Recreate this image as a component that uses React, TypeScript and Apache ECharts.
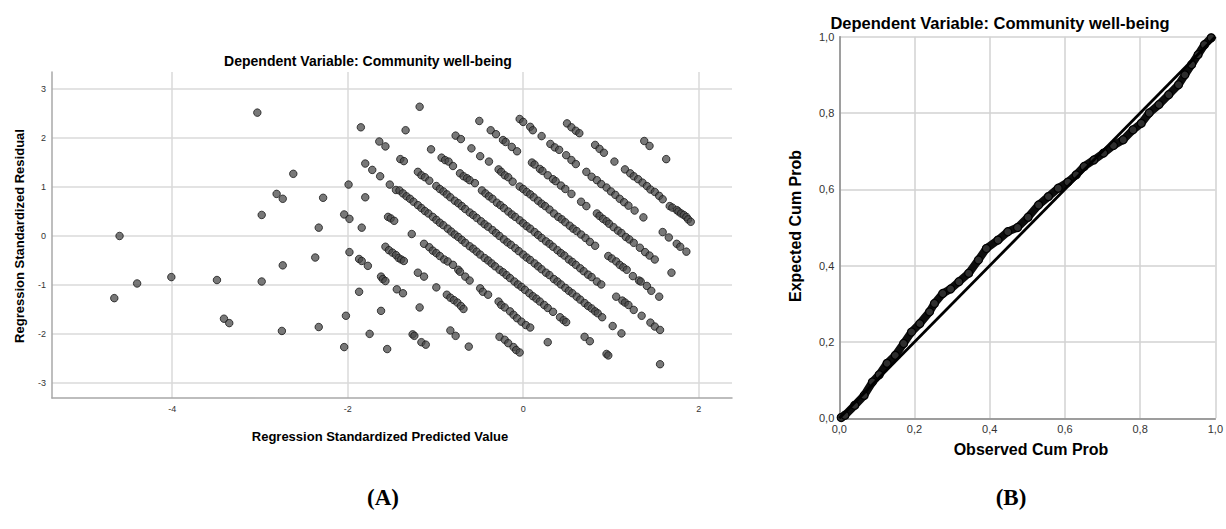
import React, { useEffect, useRef } from "react";
import * as echarts from "echarts";

// ---------- Panel A: standardized residual vs standardized predicted ----------
const predictedTicks = [-4, -2, 0, 2];
const residualTicks = [-3, -2, -1, 0, 1, 2, 3];

const farLeftPoints: number[][] = [
  [-4.66, -1.27], [-4.6, 0.0], [-4.4, -0.97], [-4.01, -0.84], [-3.49, -0.9], [-3.41, -1.69],
  [-3.35, -1.78], [-3.03, 2.52], [-2.98, 0.43], [-2.98, -0.93], [-2.81, 0.86], [-2.74, 0.76],
  [-2.74, -0.6], [-2.75, -1.94], [-2.62, 1.27], [-2.37, -0.44], [-2.33, 0.17], [-2.33, -1.86],
  [-2.28, 0.78], [-2.04, -2.27], [-2.04, 0.44], [-2.02, -1.63], [-1.99, 1.05], [-1.98, 0.35],
  [-1.98, -0.33], [-1.87, -1.14], [-1.87, -0.47], [-1.84, -0.51], [-1.85, 2.22], [-1.84, 0.17],
  [-1.8, 1.48], [-1.8, 0.79], [-1.77, -0.61], [-1.75, -2.0], [-1.72, 1.35], [-1.64, 1.93],
  [-1.63, 1.22], [-1.62, -0.83], [-1.6, -0.88], [-1.57, -0.92], [-1.62, -1.53], [-1.57, 1.83],
  [-1.55, -2.31], [-1.54, 0.39], [-1.51, 0.36], [-1.47, 0.31], [-1.52, 1.05], [-1.44, -1.09],
  [-1.45, 0.94],
];

const lowerLeftPoints: number[][] = [
  [-1.57, -0.22], [-1.53, -0.29], [-1.49, -0.34], [-1.45, -0.39], [-1.42, -0.45], [-1.39, -0.48],
  [-1.36, -0.51], [-1.2, -0.75], [-1.13, -0.83], [-0.99, -1.05], [-0.87, -1.2], [-0.83, -1.26],
  [-0.79, -1.31], [-0.75, -1.36], [-0.71, -1.43], [-0.68, -1.49], [-0.27, -2.06], [-0.21, -2.12],
  [-0.17, -2.19], [-0.11, -2.27], [-0.08, -2.33], [-0.04, -2.38],
  [-1.37, -1.17], [-1.18, -1.46], [-1.26, -2.01], [-1.24, -2.04], [-1.16, -2.17], [-1.11, -2.22],
  [-0.83, -1.93], [-0.77, -2.04], [-0.62, -2.26], [-1.27, 0.04],
];

const bandMinus176: number[][] = [
  [-1.13, -0.16], [-1.07, -0.23], [-1.03, -0.3], [-0.99, -0.35], [-0.95, -0.41], [-0.9, -0.48],
  [-0.86, -0.52], [-0.8, -0.59], [-0.74, -0.69], [-0.72, -0.73], [-0.66, -0.83], [-0.61, -0.91],
  [-0.49, -1.07], [-0.46, -1.14], [-0.4, -1.2], [-0.28, -1.34], [-0.25, -1.41], [-0.21, -1.46],
  [-0.15, -1.54], [-0.11, -1.61], [-0.07, -1.68], [-0.02, -1.75], [0.03, -1.82], [0.08, -1.87],
  [0.28, -2.17],
];

const upperLeftPoints: number[][] = [
  [-1.18, 2.64], [-1.34, 2.16], [-0.77, 2.05], [-0.71, 1.98], [-1.05, 1.77], [-0.93, 1.6],
  [-0.89, 1.55], [-0.85, 1.52], [-0.8, 1.43], [-1.4, 1.57], [-1.36, 1.53], [-1.2, 1.31],
  [-1.16, 1.24], [-1.12, 1.2], [-1.07, 1.13], [-0.72, 1.28], [-0.68, 1.22], [-0.64, 1.18],
  [-0.61, 1.14], [-0.55, 1.08],
];

const band164: number[][] = [
  [-0.5, 2.35], [-0.37, 2.16], [-0.31, 2.08], [-0.23, 1.96], [-0.2, 1.92], [-0.13, 1.82],
  [-0.07, 1.73], [0.1, 1.5], [0.13, 1.46], [0.19, 1.37], [0.22, 1.33], [0.28, 1.24], [0.34, 1.16],
  [0.37, 1.12], [0.43, 1.03], [0.48, 0.96], [0.55, 0.86], [0.66, 0.7], [0.72, 0.61], [0.84, 0.46],
  [0.87, 0.41], [0.91, 0.35], [0.95, 0.3], [0.98, 0.25], [1.03, 0.18], [1.08, 0.11], [1.12, 0.06],
  [1.17, -0.02], [1.21, -0.07], [1.26, -0.14], [1.33, -0.24], [1.39, -0.33], [1.44, -0.4],
  [1.5, -0.48], [1.69, -0.75],
];

const band096: number[][] = [
  [-0.59, 1.79], [-0.49, 1.63], [-0.39, 1.52], [-0.28, 1.36], [-0.25, 1.31], [-0.21, 1.24],
  [-0.17, 1.2], [-0.12, 1.11], [-0.04, 1.01], [0.0, 0.96], [0.04, 0.9], [0.08, 0.85], [0.12, 0.79],
  [0.17, 0.72], [0.21, 0.66], [0.25, 0.61], [0.3, 0.54], [0.35, 0.46], [0.4, 0.39], [0.44, 0.34],
  [0.48, 0.28], [0.53, 0.21], [0.57, 0.15], [0.61, 0.1], [0.66, 0.03], [0.71, -0.04], [0.76, -0.12],
  [0.82, -0.2], [0.97, -0.41], [1.01, -0.46], [1.06, -0.52], [1.1, -0.59], [1.14, -0.64],
  [1.18, -0.69], [1.25, -0.82], [1.32, -0.91], [1.34, -0.93], [1.41, -1.02], [1.46, -1.12],
  [1.55, -1.24],
];

const band026: number[][] = [
  [-0.47, 0.93], [-0.43, 0.87], [-0.39, 0.81], [-0.35, 0.76], [-0.3, 0.68], [-0.26, 0.63],
  [-0.22, 0.57], [-0.17, 0.5], [-0.13, 0.44], [-0.09, 0.39], [-0.04, 0.32], [0.0, 0.26],
  [0.04, 0.2], [0.08, 0.15], [0.13, 0.08], [0.17, 0.02], [0.21, -0.04], [0.26, -0.11],
  [0.3, -0.16], [0.34, -0.22], [0.39, -0.29], [0.43, -0.35], [0.47, -0.4], [0.52, -0.48],
  [0.56, -0.53], [0.6, -0.59], [0.65, -0.66], [0.69, -0.72], [0.74, -0.79], [0.78, -0.84],
  [0.84, -0.93], [0.89, -0.99], [1.06, -1.24], [1.13, -1.32], [1.16, -1.36], [1.2, -1.41],
  [1.26, -1.51], [1.35, -1.63], [1.45, -1.77], [1.5, -1.85], [1.56, -1.92],
];

const bandMinus038: number[][] = [
  [-0.99, 1.02], [-0.95, 0.96], [-0.91, 0.91], [-0.87, 0.85], [-0.83, 0.79], [-0.78, 0.72],
  [-0.74, 0.67], [-0.7, 0.61], [-0.66, 0.55], [-0.61, 0.48], [-0.57, 0.43], [-0.53, 0.37],
  [-0.48, 0.3], [-0.44, 0.24], [-0.4, 0.19], [-0.35, 0.12], [-0.31, 0.06], [-0.27, 0.0],
  [-0.22, -0.07], [-0.18, -0.13], [-0.14, -0.18], [-0.09, -0.25], [-0.05, -0.31], [0.0, -0.38],
  [0.04, -0.44], [0.08, -0.49], [0.13, -0.56], [0.17, -0.62], [0.21, -0.68], [0.26, -0.75],
  [0.3, -0.8], [0.35, -0.88], [0.39, -0.93], [0.43, -0.99], [0.48, -1.06], [0.52, -1.12],
  [0.56, -1.17], [0.61, -1.24], [0.65, -1.3], [0.7, -1.37], [0.74, -1.43], [0.78, -1.48],
  [0.82, -1.54], [0.85, -1.58], [0.9, -1.66], [1.02, -1.84], [1.12, -1.99], [1.56, -2.62],
];

const bandMinus107: number[][] = [
  [-1.41, 0.93], [-1.37, 0.87], [-1.33, 0.81], [-1.29, 0.76], [-1.25, 0.7], [-1.2, 0.63],
  [-1.16, 0.57], [-1.12, 0.51], [-1.08, 0.46], [-1.03, 0.39], [-0.99, 0.33], [-0.95, 0.27],
  [-0.91, 0.22], [-0.86, 0.15], [-0.82, 0.09], [-0.78, 0.03], [-0.74, -0.02], [-0.7, -0.08],
  [-0.66, -0.14], [-0.61, -0.21], [-0.57, -0.26], [-0.53, -0.32], [-0.49, -0.38], [-0.44, -0.45],
  [-0.4, -0.5], [-0.36, -0.56], [-0.32, -0.62], [-0.27, -0.69], [-0.23, -0.74], [-0.19, -0.8],
  [-0.15, -0.86], [-0.1, -0.93], [-0.06, -0.99], [-0.02, -1.04], [0.02, -1.1], [0.07, -1.17],
  [0.11, -1.23], [0.15, -1.28], [0.19, -1.34], [0.24, -1.41], [0.28, -1.47], [0.34, -1.55],
  [0.42, -1.66], [0.46, -1.72], [0.49, -1.76], [0.7, -2.06], [0.76, -2.15], [0.95, -2.41],
  [0.97, -2.44],
];

const band232: number[][] = [
  [-0.04, 2.39], [0.0, 2.33], [0.08, 2.23], [0.11, 2.16], [0.21, 2.04], [0.31, 1.88], [0.36, 1.81],
  [0.41, 1.76], [0.49, 1.65], [0.55, 1.55], [0.6, 1.47], [0.72, 1.31], [0.78, 1.21], [0.84, 1.14],
  [0.89, 1.06], [0.95, 0.99], [1.0, 0.91], [1.05, 0.84], [1.1, 0.76], [1.15, 0.69], [1.2, 0.62],
  [1.27, 0.52], [1.37, 0.38], [1.59, 0.08], [1.66, -0.03], [1.75, -0.16], [1.79, -0.22],
  [1.86, -0.32],
];

const band300: number[][] = [
  [0.5, 2.3], [0.55, 2.22], [0.6, 2.15], [0.64, 2.1], [0.82, 1.86], [0.87, 1.78], [0.92, 1.7],
  [1.04, 1.52], [1.16, 1.36], [1.22, 1.28], [1.26, 1.22], [1.31, 1.16], [1.36, 1.09], [1.41, 1.02],
  [1.45, 0.95], [1.5, 0.9], [1.55, 0.82], [1.59, 0.75], [1.67, 0.61], [1.7, 0.58], [1.75, 0.53],
  [1.77, 0.5], [1.8, 0.46], [1.83, 0.43], [1.86, 0.39], [1.88, 0.34], [1.91, 0.29],
];

const band388: number[][] = [[1.38, 1.94], [1.44, 1.84], [1.63, 1.57]];

// ---------- Panel B: normal P-P plot ----------
const ppTicks = [0, 0.2, 0.4, 0.6, 0.8, 1.0];
const ppObserved = [
  0.005, 0.015, 0.041, 0.066, 0.088, 0.106, 0.127, 0.149, 0.171, 0.192, 0.214, 0.24, 0.253, 0.275,
  0.296, 0.318, 0.344, 0.37, 0.391, 0.422, 0.448, 0.474, 0.502, 0.53, 0.556, 0.582, 0.608, 0.63,
  0.651, 0.677, 0.703, 0.729, 0.755, 0.781, 0.803, 0.824, 0.85, 0.876, 0.902, 0.919, 0.937, 0.954,
  0.971, 0.989,
];
const ppExpected = [
  0.002, 0.008, 0.034, 0.06, 0.095, 0.114, 0.144, 0.165, 0.196, 0.226, 0.248, 0.279, 0.301, 0.327,
  0.339, 0.358, 0.38, 0.415, 0.445, 0.467, 0.489, 0.5, 0.527, 0.559, 0.581, 0.603, 0.619, 0.638,
  0.66, 0.677, 0.695, 0.715, 0.73, 0.756, 0.773, 0.8, 0.822, 0.848, 0.874, 0.9, 0.927, 0.953,
  0.979, 0.997,
];
const diagonal = [[0, 0], [1, 1]];

const TITLE = "Dependent Variable: Community well-being";
const FONT = '"Liberation Sans", Arial, sans-serif';
const SERIF = '"Liberation Serif", "DejaVu Serif", serif';

const commaFmt = (v: number) => (Math.round(v * 10) / 10).toFixed(1).replace(".", ",");

export default function App() {
  const ref = useRef<HTMLDivElement>(null);

  useEffect(() => {
    if (!ref.current) return;
    const chart = echarts.init(ref.current, undefined, { renderer: "svg" });

    const scatterData = [
      ...farLeftPoints, ...lowerLeftPoints, ...bandMinus176, ...upperLeftPoints, ...band164,
      ...band096, ...band026, ...bandMinus038, ...bandMinus107, ...band232, ...band300, ...band388,
    ];
    const ppData = ppObserved.map((o, i) => [o, ppExpected[i]]);

    const text = (t: string, x: number, y: number, size: number, weight: string, rot = 0, family = FONT) => ({
      type: "text",
      x,
      y,
      rotation: rot,
      silent: true,
      style: {
        text: t,
        fill: "#000",
        fontSize: size,
        fontWeight: weight,
        fontFamily: family,
        align: "center",
        verticalAlign: "middle",
      },
    });

    chart.setOption({
      animation: false,
      backgroundColor: "#fff",
      textStyle: { fontFamily: FONT },
      grid: [
        { left: 52, top: 72, width: 680, height: 326 },
        { left: 839.3, top: 36.7, width: 384, height: 381.6 },
      ],
      xAxis: [
        {
          type: "value",
          gridIndex: 0,
          min: -5.37,
          max: 2.38,
          splitNumber: 4,
          axisLine: { show: true, onZero: false, lineStyle: { color: "#a8a8a8", width: 1.5 } },
          axisTick: { show: false },
          axisLabel: {
            formatter: (v: number) => (predictedTicks.includes(v) ? String(v) : ""),
            fontSize: 9,
            color: "#333",
            margin: 6,
            fontFamily: FONT,
          },
          splitLine: { show: true, showMinLine: false, showMaxLine: false, lineStyle: { color: "#dadada", width: 1.5 } },
        },
        {
          type: "value",
          gridIndex: 1,
          min: 0,
          max: 1,
          interval: 0.2,
          axisLine: { show: true, onZero: false, lineStyle: { color: "#888", width: 1.5 } },
          axisTick: { show: false },
          axisLabel: {
            formatter: (v: number) => (ppTicks.some((t) => Math.abs(t - v) < 1e-6) ? commaFmt(v) : ""),
            fontSize: 11,
            color: "#333",
            margin: 5,
            fontFamily: FONT,
          },
          splitLine: { show: true, lineStyle: { color: "#d2d2d2", width: 1.5 } },
        },
      ],
      yAxis: [
        {
          type: "value",
          gridIndex: 0,
          min: -3.31,
          max: 3.35,
          splitNumber: 7,
          axisLine: { show: true, onZero: false, lineStyle: { color: "#a8a8a8", width: 1.5 } },
          axisTick: { show: false },
          axisLabel: {
            formatter: (v: number) => (residualTicks.includes(v) ? String(v) : ""),
            fontSize: 9,
            color: "#333",
            margin: 6,
            fontFamily: FONT,
          },
          splitLine: { show: true, showMinLine: false, showMaxLine: false, lineStyle: { color: "#dadada", width: 1.5 } },
        },
        {
          type: "value",
          gridIndex: 1,
          min: 0,
          max: 1,
          interval: 0.2,
          axisLine: { show: true, onZero: false, lineStyle: { color: "#888", width: 1.5 } },
          axisTick: { show: false },
          axisLabel: {
            formatter: (v: number) => (ppTicks.some((t) => Math.abs(t - v) < 1e-6) ? commaFmt(v) : ""),
            fontSize: 11,
            color: "#333",
            margin: 5,
            fontFamily: FONT,
          },
          splitLine: { show: true, lineStyle: { color: "#d2d2d2", width: 1.5 } },
        },
      ],
      series: [
        {
          type: "scatter",
          xAxisIndex: 0,
          yAxisIndex: 0,
          data: scatterData,
          symbol: "circle",
          symbolSize: 7.5,
          itemStyle: { color: "rgba(72,72,72,0.92)", borderColor: "#1a1a1a", borderWidth: 1 },
        },
        {
          type: "line",
          xAxisIndex: 1,
          yAxisIndex: 1,
          data: diagonal,
          symbol: "none",
          lineStyle: { color: "#000", width: 2.8 },
          z: 3,
        },
        {
          type: "line",
          xAxisIndex: 1,
          yAxisIndex: 1,
          data: ppData,
          symbol: "circle",
          symbolSize: 8,
          showSymbol: true,
          showAllSymbol: true,
          lineStyle: { color: "#0d0d0d", width: 8, cap: "round", join: "round" },
          itemStyle: { color: "#2e2e2e", borderColor: "#000", borderWidth: 1.2 },
          z: 2,
        },
      ],
      graphic: [
        text(TITLE, 368, 61, 14, "bold"),
        text("Regression Standardized Residual", 19, 236, 13, "bold", Math.PI / 2),
        text("Regression Standardized Predicted Value", 380, 436, 13, "bold"),
        text(TITLE, 1000, 23, 16.5, "bold"),
        text("Expected Cum Prob", 795, 226, 16, "bold", Math.PI / 2),
        text("Observed Cum Prob", 1031, 449, 16, "bold"),
        text("(A)", 383, 497, 23, "bold", 0, SERIF),
        text("(B)", 1011, 497, 23, "bold", 0, SERIF),
      ],
    });

    return () => chart.dispose();
  }, []);

  return (
    <div
      ref={ref}
      style={{ position: "fixed", left: 0, top: 0, width: 1226, height: 529, background: "#fff" }}
    />
  );
}
